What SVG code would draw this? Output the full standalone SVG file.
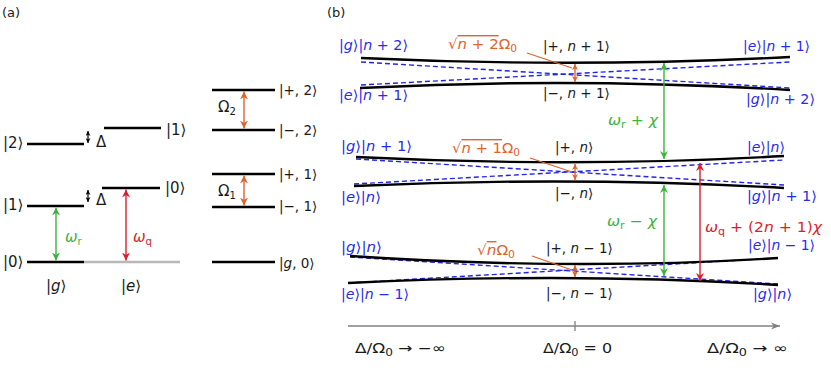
<svg xmlns="http://www.w3.org/2000/svg" width="831" height="387" viewBox="0 0 831 387">
<style>
.t{font-family:"DejaVu Sans","Liberation Sans",sans-serif;font-size:14px;fill:#1a1a1a}
.a{font-size:15px}
.c{font-size:13.5px}
.i{font-style:italic}
.s{font-size:10px}
.b{fill:#2a2aee}
.o{fill:#e0622c}
.g{fill:#3cb43c}
.r{fill:#d91f2b}
.lv{stroke:#000;stroke-width:2.6;fill:none}
.cv{stroke:#000;stroke-width:2.4;fill:none}
.ds{stroke:#2424e8;stroke-width:1.4;stroke-dasharray:5 3;fill:none}
.ptr{stroke:#e0622c;stroke-width:1.2}
</style>
<defs>
<marker id="mG" viewBox="0 0 10 10" refX="10" refY="5" markerWidth="8" markerHeight="8" markerUnits="userSpaceOnUse" orient="auto-start-reverse"><path d="M0,0 L10,5 L0,10 L3,5 z" fill="#3cb43c"/></marker>
<marker id="mR" viewBox="0 0 10 10" refX="10" refY="5" markerWidth="8" markerHeight="8" markerUnits="userSpaceOnUse" orient="auto-start-reverse"><path d="M0,0 L10,5 L0,10 L3,5 z" fill="#d91f2b"/></marker>
<marker id="mO" viewBox="0 0 10 10" refX="10" refY="5" markerWidth="8" markerHeight="8" markerUnits="userSpaceOnUse" orient="auto-start-reverse"><path d="M0,0 L10,5 L0,10 L3,5 z" fill="#e0622c"/></marker>
<marker id="mOs" viewBox="0 0 10 10" refX="10" refY="5" markerWidth="6" markerHeight="6" markerUnits="userSpaceOnUse" orient="auto-start-reverse"><path d="M0,0 L10,5 L0,10 L3,5 z" fill="#e0622c"/></marker>
<marker id="mK" viewBox="0 0 10 10" refX="10" refY="5" markerWidth="5" markerHeight="5" markerUnits="userSpaceOnUse" orient="auto-start-reverse"><path d="M0,0 L10,5 L0,10 L3,5 z" fill="#000"/></marker>
<marker id="mA" viewBox="0 0 10 10" refX="10" refY="5" markerWidth="9" markerHeight="9" markerUnits="userSpaceOnUse" orient="auto"><path d="M0,1 L10,5 L0,9 L3,5 z" fill="#808080"/></marker>
</defs>

<!-- Panel (a) -->
<text class="t" x="2" y="17" style="font-size:13px">(a)</text>

<g id="a-g2"><line class="lv" x1="27" y1="144" x2="84" y2="144"/><text class="t a" x="3" y="148">|2⟩</text></g>
<g id="a-g1"><line class="lv" x1="27" y1="206" x2="84" y2="206"/><text class="t a" x="3" y="210">|1⟩</text></g>
<g id="a-g0"><line class="lv" x1="27" y1="262" x2="84" y2="262"/><line x1="84" y1="262" x2="180" y2="262" stroke="#b8b8b8" stroke-width="2.6"/><text class="t a" x="3" y="267">|0⟩</text></g>
<g id="a-e1"><line class="lv" x1="104" y1="128" x2="161" y2="128"/><text class="t a" x="166" y="135">|1⟩</text></g>
<g id="a-e0"><line class="lv" x1="102" y1="188" x2="160" y2="188"/><text class="t a" x="165" y="193">|0⟩</text></g>
<g id="a-labels">
<text class="t a" x="46" y="291">|<tspan class="i">g</tspan>⟩</text>
<text class="t a" x="121" y="291">|<tspan class="i">e</tspan>⟩</text>
<text class="t a" x="96" y="147">Δ</text>
<text class="t a" x="96" y="205">Δ</text>
</g>
<g id="a-p2"><line class="lv" x1="212" y1="90" x2="275" y2="90"/><text class="t c" x="279" y="95">|+, 2⟩</text></g>
<g id="a-m2"><line class="lv" x1="212" y1="130" x2="275" y2="130"/><text class="t c" x="279" y="135">|−, 2⟩</text></g>
<g id="a-p1"><line class="lv" x1="212" y1="174" x2="275" y2="174"/><text class="t c" x="279" y="179">|+, 1⟩</text></g>
<g id="a-m1"><line class="lv" x1="212" y1="207" x2="275" y2="207"/><text class="t c" x="279" y="211">|−, 1⟩</text></g>
<g id="a-g0r"><line class="lv" x1="212" y1="262" x2="275" y2="262"/><text class="t c" x="279" y="268">|<tspan class="i">g</tspan>, 0⟩</text></g>

<g id="a-connectors">
<line x1="88" y1="131" x2="88" y2="143" stroke="#000" stroke-width="1.2" marker-start="url(#mK)" marker-end="url(#mK)"/>
<line x1="88" y1="190" x2="88" y2="202" stroke="#000" stroke-width="1.2" marker-start="url(#mK)" marker-end="url(#mK)"/>
<line x1="56" y1="207.5" x2="56" y2="260.5" stroke="#3cb43c" stroke-width="1.4" marker-start="url(#mG)" marker-end="url(#mG)"/>
<line x1="126" y1="189.5" x2="126" y2="260.5" stroke="#d91f2b" stroke-width="1.4" marker-start="url(#mR)" marker-end="url(#mR)"/>
<line x1="244" y1="91.5" x2="244" y2="128.5" stroke="#e0622c" stroke-width="1.4" marker-start="url(#mO)" marker-end="url(#mO)"/>
<line x1="244" y1="175.5" x2="244" y2="205.5" stroke="#e0622c" stroke-width="1.4" marker-start="url(#mO)" marker-end="url(#mO)"/>
<text class="t a g" x="65" y="242"><tspan class="i">ω</tspan><tspan class="s" dy="3">r</tspan></text>
<text class="t a r" x="133" y="242"><tspan class="i">ω</tspan><tspan class="s" dy="3">q</tspan></text>
<text class="t a" x="218" y="112">Ω<tspan class="s" dy="3">2</tspan></text>
<text class="t a" x="218" y="196">Ω<tspan class="s" dy="3">1</tspan></text>
</g>

<!-- Panel (b) -->
<text class="t" x="327" y="17" style="font-size:13px">(b)</text>

<g id="b-top">
<path class="ds" d="M361,62 L790,88"/>
<path class="ds" d="M361,85 L790,62"/>
<path class="cv" d="M361,58 Q575,68 790,57"/>
<path class="cv" d="M360,88 Q575,77 790,90"/>
<text class="t b" x="339" y="50" textLength="69" lengthAdjust="spacingAndGlyphs">|<tspan class="i">g</tspan>⟩|<tspan class="i">n</tspan> + 2⟩</text>
<text class="t b" x="339" y="100" textLength="69" lengthAdjust="spacingAndGlyphs">|<tspan class="i">e</tspan>⟩|<tspan class="i">n</tspan> + 1⟩</text>
<text class="t b" x="743" y="51" textLength="67" lengthAdjust="spacingAndGlyphs">|<tspan class="i">e</tspan>⟩|<tspan class="i">n</tspan> + 1⟩</text>
<text class="t b" x="746" y="104" textLength="69" lengthAdjust="spacingAndGlyphs">|<tspan class="i">g</tspan>⟩|<tspan class="i">n</tspan> + 2⟩</text>
<text class="t c" x="543" y="51">|+, <tspan class="i">n</tspan> + 1⟩</text>
<text class="t c" x="543" y="98">|−, <tspan class="i">n</tspan> + 1⟩</text>
<text class="t o" x="448" y="49" textLength="69" lengthAdjust="spacingAndGlyphs">√<tspan text-decoration="overline"><tspan class="i">n</tspan> + 2</tspan>Ω<tspan class="s" dy="3">0</tspan></text>
</g>

<g id="b-mid">
<path class="ds" d="M356,159 L784,185"/>
<path class="ds" d="M354,184 L784,160"/>
<path class="cv" d="M356,157 Q575,168 784,156"/>
<path class="cv" d="M354,186 Q575,176 784,188"/>
<text class="t b" x="341" y="151" textLength="71" lengthAdjust="spacingAndGlyphs">|<tspan class="i">g</tspan>⟩|<tspan class="i">n</tspan> + 1⟩</text>
<text class="t b" x="341" y="202" textLength="40" lengthAdjust="spacingAndGlyphs">|<tspan class="i">e</tspan>⟩|<tspan class="i">n</tspan>⟩</text>
<text class="t b" x="747" y="152" textLength="38" lengthAdjust="spacingAndGlyphs">|<tspan class="i">e</tspan>⟩|<tspan class="i">n</tspan>⟩</text>
<text class="t b" x="747" y="201" textLength="70" lengthAdjust="spacingAndGlyphs">|<tspan class="i">g</tspan>⟩|<tspan class="i">n</tspan> + 1⟩</text>
<text class="t c" x="555" y="152">|+, <tspan class="i">n</tspan>⟩</text>
<text class="t c" x="555" y="198">|−, <tspan class="i">n</tspan>⟩</text>
<text class="t o" x="452" y="153" textLength="68" lengthAdjust="spacingAndGlyphs">√<tspan text-decoration="overline"><tspan class="i">n</tspan> + 1</tspan>Ω<tspan class="s" dy="3">0</tspan></text>
</g>

<g id="b-bot">
<path class="ds" d="M350,257 L778,284"/>
<path class="ds" d="M348,283 L778,258"/>
<path class="cv" d="M350,256 Q575,271 778,258"/>
<path class="cv" d="M348,283 Q575,272 778,285"/>
<text class="t b" x="341" y="252" textLength="41" lengthAdjust="spacingAndGlyphs">|<tspan class="i">g</tspan>⟩|<tspan class="i">n</tspan>⟩</text>
<text class="t b" x="341" y="299" textLength="68" lengthAdjust="spacingAndGlyphs">|<tspan class="i">e</tspan>⟩|<tspan class="i">n</tspan> − 1⟩</text>
<text class="t b" x="748" y="250" textLength="67" lengthAdjust="spacingAndGlyphs">|<tspan class="i">e</tspan>⟩|<tspan class="i">n</tspan> − 1⟩</text>
<text class="t b" x="753" y="299" textLength="39" lengthAdjust="spacingAndGlyphs">|<tspan class="i">g</tspan>⟩|<tspan class="i">n</tspan>⟩</text>
<text class="t c" x="546" y="253">|+, <tspan class="i">n</tspan> − 1⟩</text>
<text class="t c" x="546" y="298">|−, <tspan class="i">n</tspan> − 1⟩</text>
<text class="t o" x="477" y="255" textLength="38" lengthAdjust="spacingAndGlyphs">√<tspan text-decoration="overline" class="i">n</tspan>Ω<tspan class="s" dy="3">0</tspan></text>
</g>

<g id="b-connectors">
<line class="ptr" x1="527" y1="53" x2="572" y2="68"/>
<line class="ptr" x1="530" y1="158" x2="572" y2="172"/>
<line class="ptr" x1="532" y1="256" x2="572" y2="270"/>
<line x1="575" y1="64" x2="575" y2="82" stroke="#e0622c" stroke-width="1.4" marker-start="url(#mOs)" marker-end="url(#mOs)"/>
<line x1="575" y1="164" x2="575" y2="180" stroke="#e0622c" stroke-width="1.4" marker-start="url(#mOs)" marker-end="url(#mOs)"/>
<line x1="575" y1="265" x2="575" y2="277" stroke="#e0622c" stroke-width="1.4" marker-start="url(#mOs)" marker-end="url(#mOs)"/>
<line x1="664" y1="63" x2="664" y2="159" stroke="#3cb43c" stroke-width="1.4" marker-start="url(#mG)" marker-end="url(#mG)"/>
<line x1="664" y1="185" x2="664" y2="276" stroke="#3cb43c" stroke-width="1.4" marker-start="url(#mG)" marker-end="url(#mG)"/>
<line x1="700" y1="163" x2="700" y2="281" stroke="#d91f2b" stroke-width="1.4" marker-start="url(#mR)" marker-end="url(#mR)"/>
<text class="t g" x="608" y="125" textLength="50" lengthAdjust="spacingAndGlyphs"><tspan class="i">ω</tspan><tspan class="s" dy="3">r</tspan><tspan dy="-3"> + </tspan><tspan class="i">χ</tspan></text>
<text class="t g" x="607" y="226" textLength="50" lengthAdjust="spacingAndGlyphs"><tspan class="i">ω</tspan><tspan class="s" dy="3">r</tspan><tspan dy="-3"> − </tspan><tspan class="i">χ</tspan></text>
<text class="t r" x="705" y="232" textLength="117" lengthAdjust="spacingAndGlyphs"><tspan class="i">ω</tspan><tspan class="s" dy="3">q</tspan><tspan dy="-3"> + (2</tspan><tspan class="i">n</tspan> + 1)<tspan class="i">χ</tspan></text>
</g>

<g id="axis">
<line x1="348" y1="326" x2="780" y2="326" stroke="#808080" stroke-width="1.3" marker-end="url(#mA)"/>
<line x1="575" y1="321" x2="575" y2="331" stroke="#808080" stroke-width="1.3"/>
<text class="t" x="355" y="353" textLength="91" lengthAdjust="spacingAndGlyphs">Δ/Ω<tspan class="s" dy="3">0</tspan><tspan dy="-3"> → −∞</tspan></text>
<text class="t" x="543" y="353" textLength="69" lengthAdjust="spacingAndGlyphs">Δ/Ω<tspan class="s" dy="3">0</tspan><tspan dy="-3"> = 0</tspan></text>
<text class="t" x="707" y="353" textLength="81" lengthAdjust="spacingAndGlyphs">Δ/Ω<tspan class="s" dy="3">0</tspan><tspan dy="-3"> → ∞</tspan></text>
</g>
</svg>
